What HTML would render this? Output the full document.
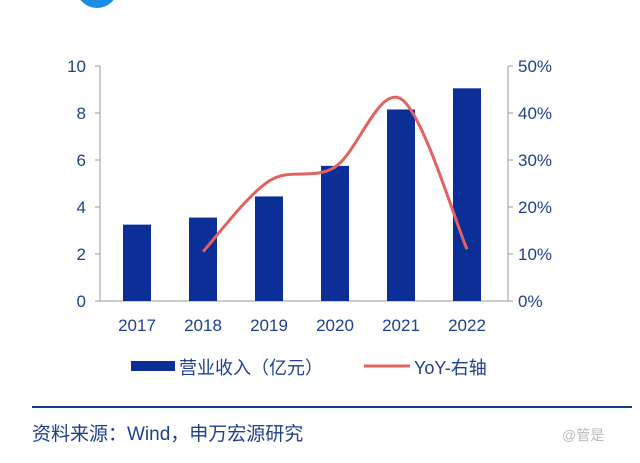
<!DOCTYPE html>
<html><head><meta charset="utf-8"><style>
body{margin:0;background:#fff;width:640px;height:458px;overflow:hidden;font-family:"Liberation Sans","Noto Sans CJK SC",sans-serif}
</style></head><body>
<svg width="640" height="458" xmlns="http://www.w3.org/2000/svg">
<circle cx="97" cy="-13" r="21" fill="#1a8ee0"/>
<g id="g"></g>
<rect x="131" y="361" width="44" height="10" fill="#0b2f96"/>
<text x="179" y="374" font-size="18" fill="#1f3f8f">营业收入（亿元）</text>
<line x1="364" y1="366" x2="410" y2="366" stroke="#e06262" stroke-width="3"/>
<text x="414" y="374" font-size="18" fill="#1f3f8f">YoY-右轴</text>
<line x1="32" y1="407" x2="632" y2="407" stroke="#1a3a8c" stroke-width="2"/>
<text x="32" y="440" font-size="19" fill="#1f3f8f">资料来源：Wind，申万宏源研究</text>
<text x="562" y="440" font-size="14" fill="#bbb">@管是</text>
</svg>
<script>
const years=["2017","2018","2019","2020","2021","2022"];
const revenue=[3.25,3.55,4.45,5.75,8.15,9.05];
const yoy=[null,10.5,25.5,28.5,43,11];
const leftTicks=[0,2,4,6,8,10];
const rightTicks=["0%","10%","20%","30%","40%","50%"];
const NS="http://www.w3.org/2000/svg",g=document.getElementById('g');
const x0=100,x1=508,yb=301,yt=66,b0=104,b1=500;
const xc=i=>b0+(b1-b0)/years.length*(i+0.5);
const yl=v=>yb-(yb-yt)*v/10;
const yr=v=>yb-(yb-yt)*v/50;
function mk(t,a){const e=document.createElementNS(NS,t);for(const k in a)e.setAttribute(k,a[k]);g.appendChild(e);return e;}
let e;
e=mk('line',{x1:x0,y1:yt,x2:x0,y2:yb,stroke:'#999'});


e=mk('line',{x1:x1,y1:yt,x2:x1,y2:yb,stroke:'#999'});


e=mk('line',{x1:x0,y1:yb,x2:x1,y2:yb,stroke:'#999'});


leftTicks.forEach((v,i)=>{const y=yl(v);
 e=mk('line',{x1:x0-5,y1:y,x2:x0,y2:y,stroke:'#999'});
 
 
 e=mk('text',{x:x0-14,y:y+6,'text-anchor':'end','font-size':17,fill:'#1f3f8f'});e.textContent=v;
 
 
 e=mk('line',{x1:x1,y1:y,x2:x1+5,y2:y,stroke:'#999'});
 
 
 e=mk('text',{x:x1+10,y:y+6,'font-size':17,fill:'#1f3f8f'});e.textContent=rightTicks[i];
 
 
});
years.forEach((yr_,i)=>{
 e=mk('rect',{x:xc(i)-14,y:yl(revenue[i]),width:28,height:yb-yl(revenue[i]),fill:'#0b2f96'});
 
 
 e=mk('text',{x:xc(i),y:331,'text-anchor':'middle','font-size':17,fill:'#1f3f8f'});e.textContent=yr_;
 
 
});
const pts=[];yoy.forEach((v,i)=>{if(v!==null)pts.push([xc(i),yr(v)]);});
let d='M'+pts[0][0]+','+pts[0][1];
for(let i=0;i<pts.length-1;i++){const p0=pts[Math.max(i-1,0)],p1=pts[i],p2=pts[i+1],p3=pts[Math.min(i+2,pts.length-1)];
 const c1=[p1[0]+(p2[0]-p0[0])/6,p1[1]+(p2[1]-p0[1])/6],c2=[p2[0]-(p3[0]-p1[0])/6,p2[1]-(p3[1]-p1[1])/6];
 d+=` C${c1[0]},${c1[1]} ${c2[0]},${c2[1]} ${p2[0]},${p2[1]}`;}
e=mk('path',{d:d,fill:'none',stroke:'#e06262','stroke-width':3});


</script>
</body></html>
